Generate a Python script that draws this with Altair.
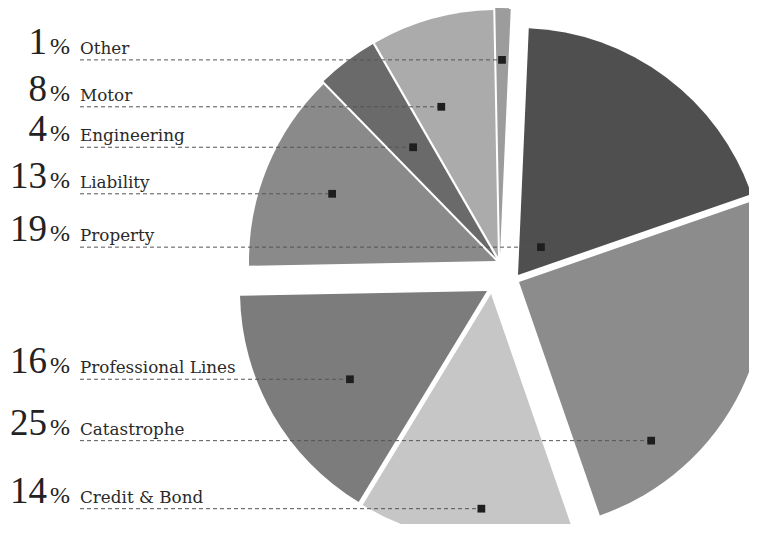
import math
import altair as alt
import pandas as pd

# ---- data ----
categories = ["Property", "Catastrophe", "Credit & Bond", "Professional Lines",
              "Liability", "Engineering", "Motor", "Other"]
shares = [19, 25, 14, 16, 13, 4, 8, 1]

# ---- styles (explode offsets, marker placement inside slices, colours) ----
slice_colors = ["#4f4f4f", "#8c8c8c", "#c6c6c6", "#7c7c7c",
                "#8a8a8a", "#6a6a6a", "#ababab", "#9c9c9c"]
explode_dx = [13, 14, -14, -18, -9, -9, -7, -5]
explode_dy = [-1, 6, 18, 15, -15, -18, -19, -21]
marker_angle_frac = [0.54, 0.77, 0.43, 0.45, 0.50, 0.52, 0.32, 0.47]
marker_radius_frac = [0.146, 0.836, 0.87, 0.66, 0.717, 0.56, 0.65, 0.79]

W, H = 741, 516
CX, CY = 497, 268
R = 247
START = math.radians(2.5)
LINE_X = 72
NUM_X = 39
PCT_X = 42

df = pd.DataFrame({
    "category": categories,
    "share": shares,
    "order": list(range(len(categories))),
    "dx": explode_dx,
    "dy": explode_dy,
    "mfrac": marker_angle_frac,
    "mrad": marker_radius_frac,
})

base = (
    alt.Chart(df)
    .transform_window(cum="sum(share)", sort=[alt.SortField("order")], frame=[None, 0])
    .transform_joinaggregate(total="sum(share)")
    .transform_calculate(t0=f"{START} + 2*PI*(datum.cum - datum.share)/datum.total")
    .transform_calculate(t1=f"{START} + 2*PI*datum.cum/datum.total")
    .transform_calculate(tm="datum.t0 + datum.mfrac*(datum.t1 - datum.t0)")
    .transform_calculate(ax=f"{CX} + datum.dx")
    .transform_calculate(ay=f"{CY} + datum.dy")
    .transform_calculate(mx=f"datum.ax + {R}*datum.mrad*sin(datum.tm)")
    .transform_calculate(my=f"datum.ay - {R}*datum.mrad*cos(datum.tm)")
    .transform_calculate(ty="datum.my - 6")
    .transform_calculate(lx=f"{LINE_X}")
    .transform_calculate(nx=f"{NUM_X}")
    .transform_calculate(px=f"{PCT_X}")
    .transform_calculate(pct="'%'")
)

arcs = base.mark_arc(outerRadius=R).encode(
    x=alt.X("ax:Q", scale=None),
    y=alt.Y("ay:Q", scale=None),
    theta=alt.Theta("t0:Q", scale=None),
    theta2="t1:Q",
    color=alt.Color("category:N",
                    scale=alt.Scale(domain=categories, range=slice_colors),
                    legend=None),
)

leaders = base.mark_rule(color="#555555", strokeDash=[4, 3], strokeWidth=1).encode(
    x=alt.X("lx:Q", scale=None),
    x2="mx:Q",
    y=alt.Y("my:Q", scale=None),
)

markers = base.mark_square(size=60, color="#1e1e1e", opacity=1).encode(
    x=alt.X("mx:Q", scale=None),
    y=alt.Y("my:Q", scale=None),
)

numbers = base.mark_text(align="right", baseline="alphabetic",
                         font="Liberation Serif", fontSize=37, color="#222222").encode(
    x=alt.X("nx:Q", scale=None),
    y=alt.Y("ty:Q", scale=None),
    text="share:Q",
)

percents = base.mark_text(align="left", baseline="alphabetic",
                          font="Liberation Serif", fontSize=24, color="#222222").encode(
    x=alt.X("px:Q", scale=None),
    y=alt.Y("ty:Q", scale=None),
    text="pct:N",
)

names = base.mark_text(align="left", baseline="alphabetic",
                       font="DejaVu Serif", fontSize=16.8, color="#2a2a2a").encode(
    x=alt.X("lx:Q", scale=None),
    y=alt.Y("ty:Q", scale=None),
    text="category:N",
)

chart = (
    alt.layer(arcs, leaders, markers, numbers, percents, names)
    .properties(width=W, height=H, autosize=alt.AutoSizeParams(type="none"), padding=0,
                background="white")
    .configure_view(stroke=None)
)

chart.save("out.html", embed_options={"renderer": "svg", "actions": False})
